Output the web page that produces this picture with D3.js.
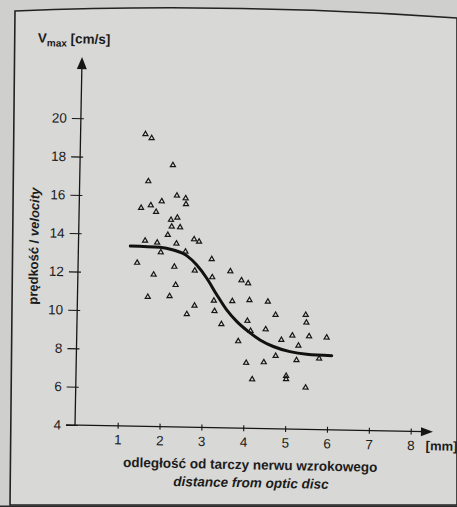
<!DOCTYPE html>
<html>
<head>
<meta charset="utf-8">
<script src="https://cdn.jsdelivr.net/npm/d3@7"></script>
<style>
html,body{margin:0;padding:0;background:#d2d2d0;}
svg{display:block;}
text{font-family:"Liberation Sans",Arial,sans-serif;fill:#1c1c1c;}
</style>
</head>
<body>
<svg id="chart" width="457" height="507"></svg>
<script>
// ---- data ----
const distance = [1.53,1.68,2.20,1.62,2.31,2.52,1.95,2.53,1.46,1.69,1.82,2.33,2.18,2.20,2.40,2.11,1.57,1.86,2.32,2.74,2.86,1.95,2.54,1.39,2.28,3.17,1.79,2.77,3.19,2.32,1.66,2.18,2.78,3.24,2.60,3.26,3.43,3.62,3.89,4.05,3.68,4.09,4.53,4.72,4.05,5.44,5.46,4.13,4.49,3.84,4.87,5.13,5.53,5.95,5.28,4.74,5.24,5.78,4.04,4.46,4.19,5.00,5.00,5.47];
const velocity = [19.23,19.03,17.64,16.78,16.06,15.93,15.75,15.62,15.38,15.53,15.19,14.91,14.79,14.44,14.41,14.00,13.68,13.59,13.56,13.80,13.68,13.09,13.15,12.52,12.35,12.78,11.92,12.17,11.84,11.40,10.75,10.81,10.34,10.62,9.89,10.08,9.40,12.17,11.71,11.56,10.61,10.68,10.62,9.94,9.60,9.97,9.57,9.08,9.18,8.53,8.64,8.88,8.86,8.81,8.36,7.80,7.60,7.71,7.41,7.46,6.56,6.77,6.60,6.18];
const fitX = [1.22,1.93,2.25,2.57,2.81,3.06,3.31,3.55,3.80,4.08,4.36,4.68,5.08,5.48,6.08];
const fitY = [13.39,13.35,13.22,12.94,12.47,11.78,10.92,10.15,9.55,9.04,8.62,8.29,8.04,7.92,7.87];
const xTicks = [1,2,3,4,5,6,7,8];
const yTicks = [4,6,8,10,12,14,16,18,20];
const xUnit = "[mm]";
const yTitle = "V";
const yTitleSub = "max";
const yTitleUnit = " [cm/s]";
const yLabelPl = "prędkość / ";
const yLabelEn = "velocity";
const xLabelPl = "odległość od tarczy nerwu wzrokowego";
const xLabelEn = "distance from optic disc";

const svg = d3.select("#chart");
const ink = "#161616";

// paper / frame
svg.append("rect").attr("x",0).attr("y",0).attr("width",457).attr("height",507).attr("fill","#cfcfcd");
svg.append("path")
  .attr("d","M15,11 Q230,2 457,18 L457,505 L10,505 Z")
  .attr("fill","#d8d8d6").attr("stroke","#222").attr("stroke-width",1.6);
svg.append("rect").attr("x",0).attr("y",505.5).attr("width",457).attr("height",2).attr("fill","#2a2a2a");

const ox = 75, oy = 425;
const g = svg.append("g").attr("transform",`rotate(1.1,${ox},${oy})`);

const x = d3.scaleLinear().domain([0,8]).range([ox+0.8, ox+0.8+41.87*8]);
const y = d3.scaleLinear().domain([4,20]).range([oy, oy-19.18*16]);

// axis lines with arrows
g.append("line").attr("x1",ox).attr("y1",oy).attr("x2",ox).attr("y2",66)
  .attr("stroke",ink).attr("stroke-width",1.3);
g.append("path").attr("d",`M${ox},57 L${ox-5},69 L${ox+5},69 Z`).attr("fill",ink);
g.append("line").attr("x1",ox-9).attr("y1",oy).attr("x2",425).attr("y2",oy)
  .attr("stroke",ink).attr("stroke-width",1.3);
g.append("path").attr("d",`M433,${oy} L421,${oy-4.5} L421,${oy+4.5} Z`).attr("fill",ink);

// y axis ticks
const ya = g.append("g").attr("transform",`translate(${ox},0)`)
  .call(d3.axisLeft(y).tickValues(yTicks).tickSize(9).tickPadding(5));
ya.select(".domain").remove();
ya.selectAll(".tick line").attr("x1",3).attr("stroke",ink).attr("stroke-width",1.1);
ya.selectAll(".tick text").attr("font-size",13.5).attr("fill",ink)
  .style("font-family","'Liberation Sans',Arial,sans-serif");

// x axis ticks
const xa = g.append("g").attr("transform",`translate(0,${oy})`)
  .call(d3.axisBottom(x).tickValues(xTicks).tickSize(3).tickPadding(6));
xa.select(".domain").remove();
xa.selectAll(".tick line").attr("y1",-3).attr("stroke",ink).attr("stroke-width",1.1);
xa.selectAll(".tick text").attr("font-size",13.5).attr("fill",ink)
  .style("font-family","'Liberation Sans',Arial,sans-serif");

g.append("text").attr("x",426).attr("y",443.5).attr("font-size",13).attr("font-weight","bold").text(xUnit);

// titles
const t = g.append("text").attr("x",30.5).attr("y",43.4).attr("font-size",13.5).attr("font-weight","bold");
t.append("tspan").text(yTitle);
t.append("tspan").attr("font-size",10).attr("dy",3.5).text(yTitleSub);
t.append("tspan").attr("dy",-3.5).text(yTitleUnit);

const yl = g.append("text").attr("transform","translate(35,247) rotate(-90)")
  .attr("text-anchor","middle").attr("font-size",13).attr("font-weight","bold");
yl.append("tspan").text(yLabelPl);
yl.append("tspan").attr("font-style","italic").text(yLabelEn);

g.append("text").attr("x",251).attr("y",466).attr("text-anchor","middle")
  .attr("font-size",13.5).attr("font-weight","bold").text(xLabelPl);
g.append("text").attr("x",252).attr("y",484).attr("text-anchor","middle")
  .attr("font-size",13.5).attr("font-weight","bold").attr("font-style","italic").text(xLabelEn);

// fitted curve
const fit = fitX.map((d,i)=>[d,fitY[i]]);
g.append("path").datum(fit)
  .attr("d", d3.line().x(d=>x(d[0])).y(d=>y(d[1])).curve(d3.curveMonotoneX))
  .attr("fill","none").attr("stroke","#111").attr("stroke-width",3).attr("stroke-linecap","round");

// points
const pts = distance.map((d,i)=>[d,velocity[i]]);
g.selectAll("path.pt").data(pts).enter().append("path").attr("class","pt")
  .attr("transform",d=>`translate(${x(d[0])},${y(d[1])})`)
  .attr("d", d3.symbol().type(d3.symbolTriangle).size(11))
  .attr("fill","none").attr("stroke","#151515").attr("stroke-width",1.2);
</script>
</body>
</html>
